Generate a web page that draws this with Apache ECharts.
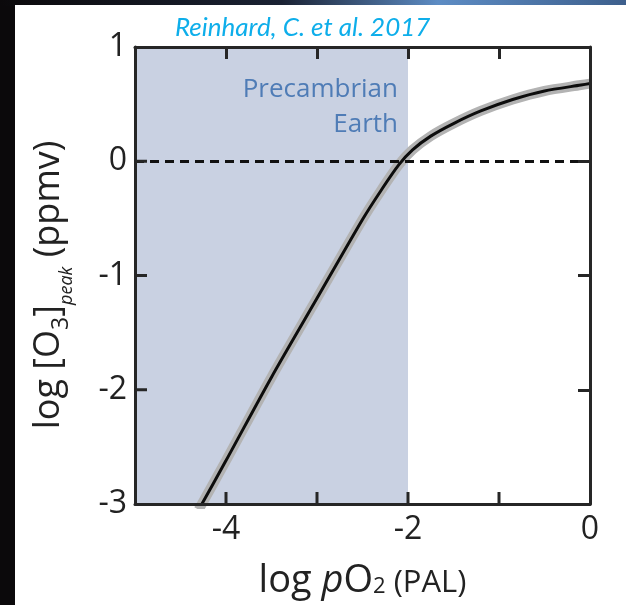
<!DOCTYPE html>
<html>
<head>
<meta charset="utf-8">
<style>
  html, body { margin: 0; padding: 0; background: #0b090b; overflow: hidden; }
  #frame { position: absolute; left: 0; top: 0; width: 626px; height: 605px; background: #0b090b; }
  #glow { position: absolute; left: 0; top: 0; width: 626px; height: 6px;
          background: linear-gradient(to right, #0b090b 0%, #1a2233 45%, #5d8cc4 70%, #3d5f8c 100%); }
  #paper { position: absolute; left: 15px; top: 5px; width: 611px; height: 600px; background: #ffffff; }
  #chart { position: absolute; left: 0; top: 0; width: 626px; height: 605px; }
</style>
<script src="https://cdn.jsdelivr.net/npm/echarts@6/dist/echarts.min.js"></script>
</head>
<body>
<div id="frame"></div>
<div id="glow"></div>
<div id="paper"></div>
<div id="chart"></div>
<script>
// Peak ozone vs. atmospheric O2 (both log scale)
const logPO2 = [-4.30, -4.0, -3.5, -3.0, -2.5, -2.3, -2.1, -1.95, -1.75, -1.5, -1.2, -0.85, -0.5, -0.1, 0];
const logO3peak = [-3.05, -2.62, -1.89, -1.20, -0.51, -0.26, -0.03, 0.10, 0.22, 0.33, 0.44, 0.54, 0.615, 0.667, 0.68];

// Tick positions and the labels shown on each axis
const xTicks = [-4, -3, -2, -1];
const yTicks = [0, -1, -2];
const xTickLabels = [-4, -2, 0];
const yTickLabels = [1, 0, -1, -2, -3];

// Shaded Precambrian O2 range and reference level
const precambrianRange = [-5, -2];
const referenceLevel = 0;

const curve = logPO2.map((x, i) => [x, logO3peak[i]]);

const FONT = '"Open Sans", "Liberation Sans", sans-serif';
const AXIS_COLOR = '#262626';
const TEXT = '#222222';
const TICK_LEN = 12;
const TICK_W = 3;

const X_RANGE = { min: -5, max: 0, interval: 1 };
const Y_RANGE = { min: -3, max: 1, interval: 1 };

const boxLine = { show: true, onZero: false, lineStyle: { color: AXIS_COLOR, width: 3 } };

// Frame axis carrying inward ticks (top and right edges)
function tickAxis(position, range) {
  return Object.assign({
    type: 'value', position: position, z: 10,
    axisLine: boxLine,
    axisTick: { show: true, inside: true, length: TICK_LEN, lineStyle: { color: AXIS_COLOR, width: TICK_W } },
    axisLabel: { show: false },
    splitLine: { show: false }
  }, range);
}

// Inward ticks on the bottom / left edges, drawn as small filled bars
// anchored at each tick value through the grid's scales
function edgeTicks(data, vertical) {
  return {
    type: 'custom', z: 12, silent: true, clip: false,
    xAxisIndex: 0, yAxisIndex: 0,
    data: data,
    renderItem: (params, api) => {
      const p = api.coord([api.value(0), api.value(1)]);
      const shape = vertical
        ? { x: p[0] - TICK_W / 2, y: p[1] - TICK_LEN, width: TICK_W, height: TICK_LEN }
        : { x: p[0], y: p[1] - TICK_W / 2, width: TICK_LEN, height: TICK_W };
      return { type: 'rect', shape: shape, style: { fill: AXIS_COLOR } };
    }
  };
}

const chart = echarts.init(document.getElementById('chart'), null, { renderer: 'canvas' });

chart.setOption({
  backgroundColor: 'transparent',
  animation: false,
  title: {
    text: 'Reinhard, C. et al. 2017',
    left: 170, top: 10,
    textStyle: { fontFamily: 'Lato, "Open Sans", sans-serif', fontStyle: 'italic', fontWeight: 'normal', fontSize: 26, color: '#0eaeea' }
  },
  graphic: [{
    type: 'text', z: 10, rotation: Math.PI / 2, x: 53, y: 285,
    style: {
      text: '{a|log [O}{s|3}{a|]}{p|peak}{a| (ppmv)}',
      align: 'center', verticalAlign: 'middle',
      rich: {
        a: { fontFamily: FONT, fontSize: 36, fill: TEXT, verticalAlign: 'bottom', padding: [0, 0, 9, 0] },
        s: { fontFamily: FONT, fontSize: 23, fill: TEXT, verticalAlign: 'bottom', padding: [0, 0, 3, 0] },
        p: { fontFamily: FONT, fontSize: 18, fontStyle: 'italic', fill: TEXT, verticalAlign: 'bottom' }
      }
    }
  }],
  grid: { left: 135, right: 36, top: 47, bottom: 101, outerBoundsMode: 'none' },
  xAxis: [
    Object.assign({
      type: 'value', position: 'bottom', z: 10,
      axisLine: boxLine,
      axisTick: { show: false },
      splitLine: { show: false },
      name: '{a|log }{i|p}{a|O}{s|2}{b| (PAL)}',
      nameLocation: 'middle', nameGap: 58,
      nameTextStyle: {
        rich: {
          a: { fontFamily: FONT, fontSize: 38, color: TEXT, verticalAlign: 'bottom' },
          i: { fontFamily: FONT, fontSize: 38, fontStyle: 'italic', color: TEXT, verticalAlign: 'bottom' },
          s: { fontFamily: FONT, fontSize: 22, color: TEXT, verticalAlign: 'bottom', padding: [0, 0, 2, 0] },
          b: { fontFamily: FONT, fontSize: 31, color: TEXT, verticalAlign: 'bottom', padding: [0, 0, 1, 0] }
        }
      },
      axisLabel: {
        margin: 10, fontFamily: FONT, fontSize: 32, color: TEXT,
        formatter: v => (xTickLabels.includes(v) ? String(v) : '')
      }
    }, X_RANGE),
    tickAxis('top', X_RANGE)
  ],
  yAxis: [
    Object.assign({
      type: 'value', position: 'left', z: 10,
      axisLine: boxLine,
      axisTick: { show: false },
      splitLine: { show: false },
      axisLabel: {
        margin: 8, fontFamily: FONT, fontSize: 32, color: TEXT,
        formatter: v => (yTickLabels.includes(v) ? String(v) : '')
      }
    }, Y_RANGE),
    tickAxis('right', Y_RANGE)
  ],
  series: [
    {
      name: 'range', type: 'line', data: curve, smooth: 0.25,
      xAxisIndex: 0, yAxisIndex: 0,
      symbol: 'none', clip: true, z: 3,
      lineStyle: { color: '#b3b3b3', width: 10 },
      markArea: {
        silent: true,
        itemStyle: { color: '#c9d1e2' },
        label: {
          show: true, position: 'insideTopRight', distance: 0,
          padding: [25, 10, 0, 0],
          fontFamily: FONT, fontSize: 26, lineHeight: 35, align: 'right',
          color: '#4f7cb6'
        },
        data: [[
          { xAxis: precambrianRange[0], name: 'Precambrian\nEarth' },
          { xAxis: precambrianRange[1] }
        ]]
      },
      markLine: {
        silent: true, symbol: 'none',
        label: { show: false },
        lineStyle: { color: '#111', width: 3, type: [9, 6] },
        data: [{ yAxis: referenceLevel }]
      }
    },
    {
      name: 'logO3', type: 'line', data: curve, smooth: 0.25,
      xAxisIndex: 0, yAxisIndex: 0,
      symbol: 'none', clip: true, z: 4,
      lineStyle: { color: '#0d0d0d', width: 3 }
    },
    edgeTicks(xTicks.map(v => [v, Y_RANGE.min]), true),
    edgeTicks(yTicks.map(v => [X_RANGE.min, v]), false)
  ]
});
</script>
</body>
</html>
